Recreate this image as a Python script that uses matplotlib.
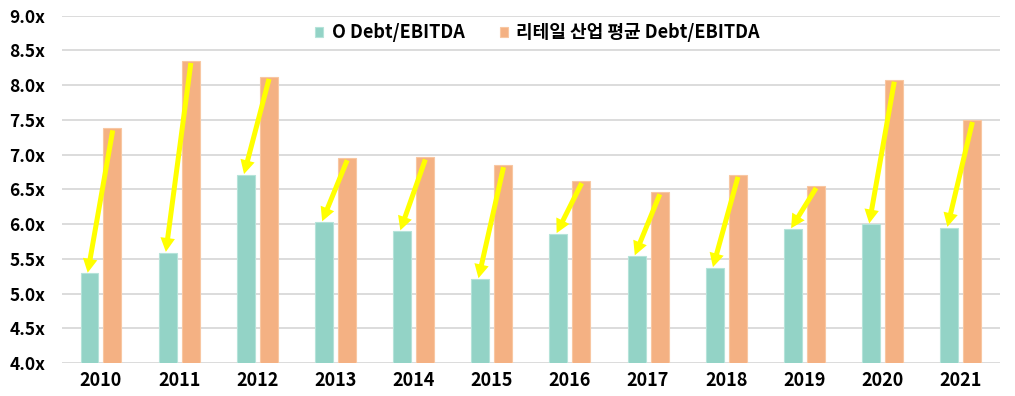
import matplotlib
matplotlib.use("Agg")
import matplotlib.pyplot as plt
import numpy as np
from matplotlib.patches import FancyArrowPatch

plt.rcParams['font.family'] = ['Noto Sans CJK KR', 'DejaVu Sans']

years = ['2010', '2011', '2012', '2013', '2014', '2015', '2016', '2017', '2018', '2019', '2020', '2021']
company = [5.29, 5.59, 6.71, 6.03, 5.90, 5.21, 5.86, 5.54, 5.37, 5.93, 6.00, 5.95]
industry = [7.38, 8.35, 8.12, 6.95, 6.96, 6.85, 6.62, 6.46, 6.71, 6.55, 8.08, 7.50]
series_names = ['O Debt/EBITDA', '리테일 산업 평균 Debt/EBITDA']
yticks = [4.0, 4.5, 5.0, 5.5, 6.0, 6.5, 7.0, 7.5, 8.0, 8.5, 9.0]

teal = '#93D3C6'
orange = '#F4B183'

fig = plt.figure(figsize=(10.15, 3.96), dpi=100)
ax = fig.add_axes([0.061, 0.0833, 0.924, 0.877])

x = np.arange(len(years))
w = 0.23
off = 0.147
ax.bar(x - off, company, width=w, bottom=0, color=teal, edgecolor='#B5E3D9', linewidth=0.8,
       label=series_names[0], zorder=2)
ax.bar(x + off, industry, width=w, bottom=0, color=orange, edgecolor='#F8C7A2', linewidth=0.8,
       label=series_names[1], zorder=2)

for i in range(len(years)):
    arr = FancyArrowPatch((x[i] + 0.15, industry[i] - 0.03), (x[i] - 0.17, company[i] + 0.01),
                          arrowstyle='simple,head_width=1.05,head_length=1.0,tail_width=0.36',
                          mutation_scale=10, color='#FFFF00', lw=0, zorder=4,
                          shrinkA=0, shrinkB=0)
    ax.add_patch(arr)

ax.set_ylim(4.0, 9.0)
ax.set_xlim(-0.5, len(years) - 0.5)
ax.set_yticks(yticks)
ax.set_yticklabels([f'{v:.1f}x' for v in yticks])
ax.set_xticks(x)
ax.set_xticklabels(years)
ax.tick_params(axis='y', length=0, labelsize=12.5, pad=12)
ax.tick_params(axis='x', length=0, labelsize=13, pad=6)
for lab in ax.get_xticklabels() + ax.get_yticklabels():
    lab.set_fontweight('bold')
for s in ax.spines.values():
    s.set_visible(False)
ax.yaxis.grid(True, color='#D9D9D9', linewidth=1.3, zorder=0)
ax.set_axisbelow(True)
ax.margins(y=0)

leg = ax.legend(loc='center', bbox_to_anchor=(0.507, 0.951), ncol=2, frameon=False,
                prop={'weight': 'bold', 'size': 13}, handlelength=0.45, handleheight=0.45,
                handletextpad=0.45, columnspacing=1.95, borderaxespad=0)

fig.savefig('out.png', dpi=100)
